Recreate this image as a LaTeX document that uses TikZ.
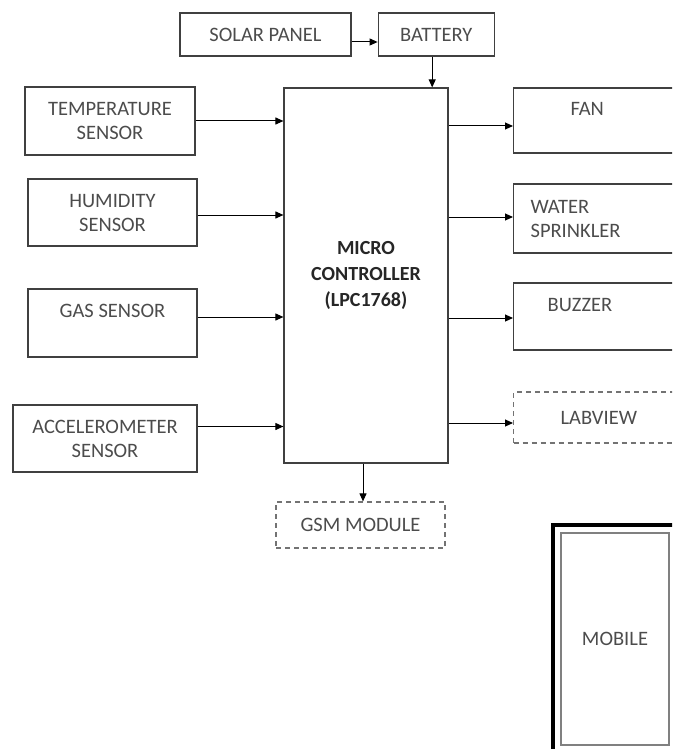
\documentclass[tikz,border=0pt]{standalone}
\usepackage{fontspec}
\setmainfont{Carlito}
\usepackage{tikz}
\usetikzlibrary{arrows.meta,positioning}

\begin{document}
\begin{tikzpicture}[
    x=1pt, y=-1pt,
    font=\fontsize{20.5}{24}\selectfont,
    box/.style={draw=black!75, line width=1.2pt, align=center, text=black!70,
                inner sep=0pt},
    outbox/.style={box, anchor=west, minimum width=190pt, text width=190pt,
                align=left},
    dashbox/.style={box, draw=black!55, dash pattern=on 5pt off 4pt},
    arrow/.style={-{Triangle[length=8pt,width=7pt]}, line width=1pt}
]
  \clip (0,0) rectangle (672,749);

  % power
  \node[box, minimum width=171pt, minimum height=43pt] (solar) at (265.5,34.5) {SOLAR PANEL};
  \node[box, minimum width=116pt, minimum height=43pt, right=26pt of solar] (battery) {BATTERY};

  % controller
  \node[box, minimum width=164pt, minimum height=375pt, font=\fontsize{20}{26}\selectfont\bfseries,
        text=black!85] (mcu) at (366,275.5) {MICRO\\CONTROLLER\\(LPC1768)};

  % sensors
  \node[box, minimum width=170pt, minimum height=68pt] (temp) at (110,121) {TEMPERATURE\\SENSOR};
  \node[box, minimum width=169pt, minimum height=67pt] (hum) at (112.5,212.5) {HUMIDITY\\SENSOR};
  \node[box, minimum width=169pt, minimum height=68pt] (gas) at (112.5,323) {GAS SENSOR\\\mbox{}};
  \node[box, minimum width=184pt, minimum height=67pt] (accel) at (105,438.5) {ACCELEROMETER\\SENSOR};

  % outputs
  \node[outbox, minimum height=65pt] (fan) at (513,120.5) {\hspace*{57pt}FAN\\\mbox{}};
  \node[outbox, minimum height=69pt] (sprinkler) at (513,218.5) {\hspace*{17pt}WATER\\\hspace*{17pt}SPRINKLER};
  \node[outbox, minimum height=67pt] (buzzer) at (513,316.5) {\hspace*{34pt}BUZZER\\\mbox{}};
  \node[dashbox, outbox, draw=black!55, minimum height=51pt] (labview) at (513,417.5) {\hspace*{47pt}LABVIEW};
  \node[dashbox, minimum width=169pt, minimum height=46pt] (gsm) at (360.5,525) {GSM MODULE};

  % mobile
  \node[draw=black, line width=4pt, minimum width=147pt, minimum height=245pt] (mobframe) at (626.5,647.5) {};
  \node[box, draw=black!50, minimum width=108pt, minimum height=212pt] (mobile) at (615,639) {MOBILE};

  \draw[arrow] ([yshift=-7.5pt]solar.east) -- ([yshift=-7.5pt]battery.west);
  \draw[arrow] ([xshift=-4pt]battery.south) -- ([xshift=-4pt]battery.south |- mcu.north);
  \draw[arrow] (temp.east) -- (temp.east -| mcu.west);
  \draw[arrow] ([yshift=-2.5pt]hum.east) -- ([yshift=-2.5pt]hum.east -| mcu.west);
  \draw[arrow] ([yshift=6pt]gas.east) -- ([yshift=6pt]gas.east -| mcu.west);
  \draw[arrow] ([yshift=12pt]accel.east) -- ([yshift=12pt]accel.east -| mcu.west);
  \draw[arrow] ([yshift=-5.5pt]fan.west -| mcu.east) -- ([yshift=-5.5pt]fan.west);
  \draw[arrow] ([yshift=1.5pt]sprinkler.west -| mcu.east) -- ([yshift=1.5pt]sprinkler.west);
  \draw[arrow] ([yshift=-1.5pt]buzzer.west -| mcu.east) -- ([yshift=-1.5pt]buzzer.west);
  \draw[arrow] ([yshift=-5.5pt]labview.west -| mcu.east) -- ([yshift=-5.5pt]labview.west);
  \draw[arrow] ([xshift=-3pt]mcu.south) -- ([xshift=-3pt]mcu.south |- gsm.north);
\end{tikzpicture}
\end{document}
